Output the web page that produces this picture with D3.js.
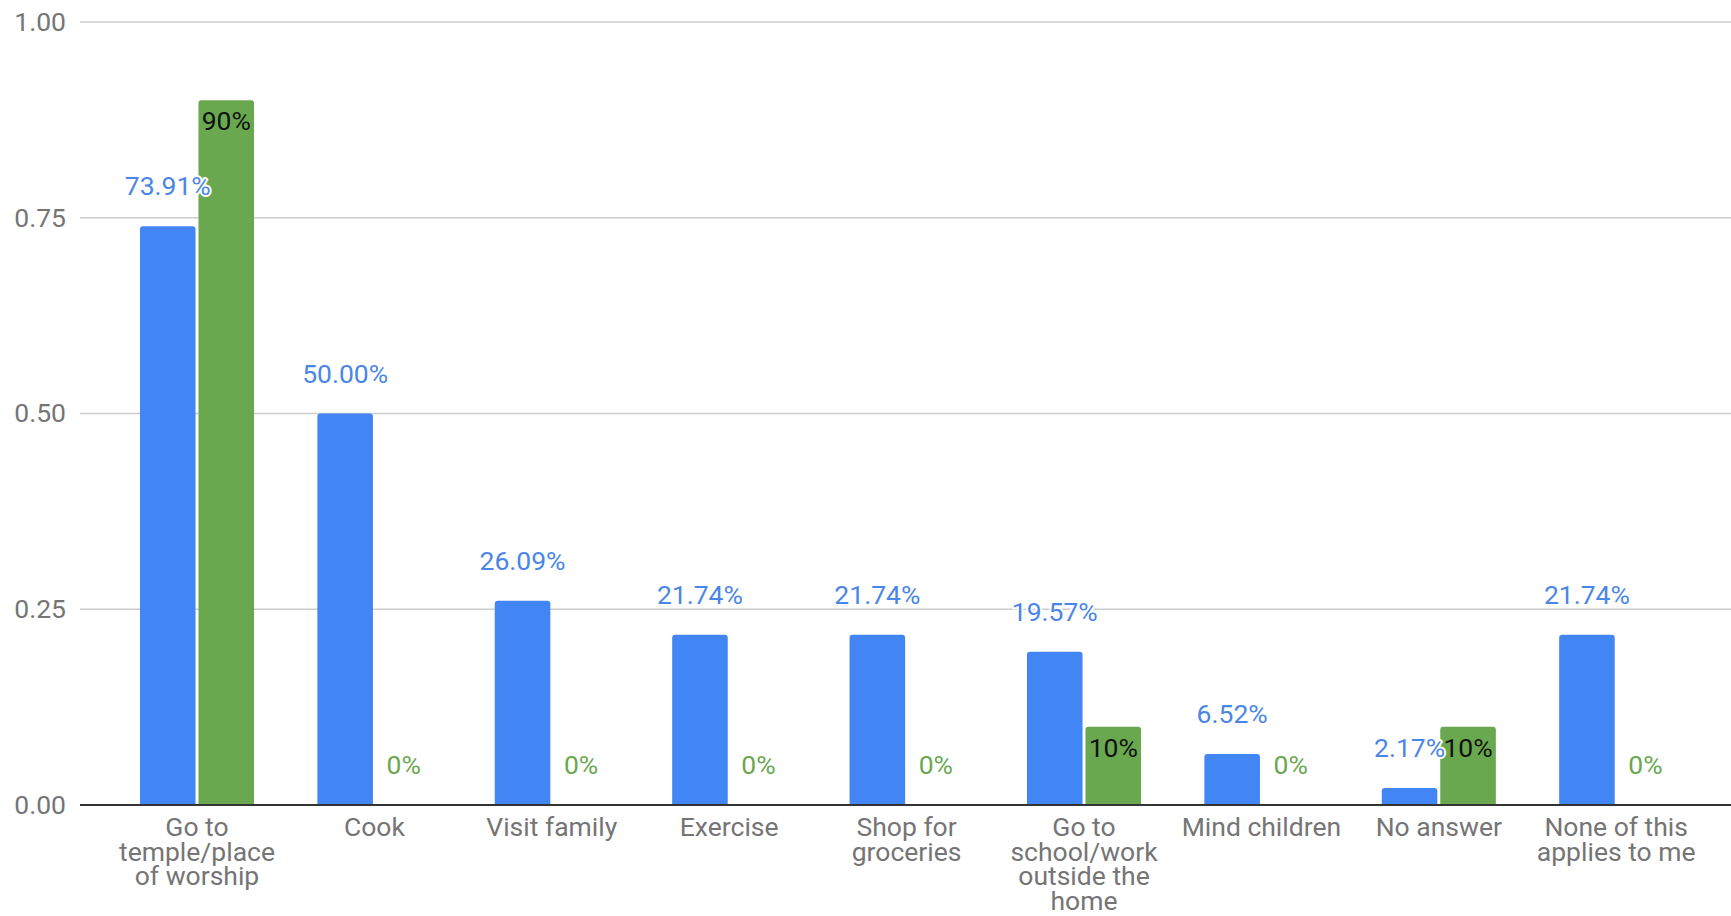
<!DOCTYPE html>
<html>
<head>
<meta charset="utf-8">
<script src="https://cdn.jsdelivr.net/npm/d3@7"></script>
<style>
  html, body { margin: 0; padding: 0; background: #fff; }
  svg { display: block; font-family: Roboto, "Noto Sans", sans-serif; }
</style>
</head>
<body>
<svg id="chart" width="1731" height="916"></svg>
<script>
const categories = [
  "Go to temple/place of worship",
  "Cook",
  "Visit family",
  "Exercise",
  "Shop for groceries",
  "Go to school/work outside the home",
  "Mind children",
  "No answer",
  "None of this applies to me"
];
const seriesNames = ["blue", "green"];
const blueValues  = [0.7391, 0.50, 0.2609, 0.2174, 0.2174, 0.1957, 0.0652, 0.0217, 0.2174];
const greenValues = [0.90, 0, 0, 0, 0, 0.10, 0, 0.10, 0];
const blueLabels  = ["73.91%", "50.00%", "26.09%", "21.74%", "21.74%", "19.57%", "6.52%", "2.17%", "21.74%"];
const greenLabels = ["90%", "0%", "0%", "0%", "0%", "10%", "0%", "10%", "0%"];
const yTicks = [0, 0.25, 0.5, 0.75, 1.0];

const svg = d3.select("#chart");
const FS = 26.5;
const blueColor = "#4285f4", greenColor = "#6aa84f";
const blueText = "#4a86e8", greenText = "#6aa84f";

const y = d3.scaleLinear().domain([0, 1]).range([805, 22]);
const x = d3.scaleBand().domain(categories).range([108.3, 1704.9]).paddingInner(0.357).paddingOuter(0.1785);
const xs = d3.scaleBand().domain(seriesNames).range([0, x.bandwidth()]).paddingInner(0.05);

// gridlines
svg.append("g").selectAll("line").data(yTicks.filter(d => d > 0)).join("line")
  .attr("x1", 80).attr("x2", 1731)
  .attr("y1", d => y(d)).attr("y2", d => y(d))
  .attr("stroke", "#cccccc").attr("stroke-width", 1.5);

// y axis labels
const yAxis = d3.axisLeft(y).tickValues(yTicks).tickFormat(d3.format(".2f")).tickSize(0).tickPadding(0);
const yg = svg.append("g").attr("transform", "translate(66,0)").call(yAxis);
yg.select(".domain").remove();
yg.selectAll("text").attr("font-size", FS).attr("fill", "#757575").attr("font-family", "Roboto, sans-serif");

// bars
function topRounded(x0, y0, w, h, r) {
  r = Math.min(r, h / 2, w / 2);
  if (h <= 0) return "";
  return `M${x0},${y0 + h}V${y0 + r}Q${x0},${y0} ${x0 + r},${y0}H${x0 + w - r}Q${x0 + w},${y0} ${x0 + w},${y0 + r}V${y0 + h}Z`;
}
const rows = categories.map((c, i) => ({
  cat: c,
  vals: [
    {s: "blue", v: blueValues[i], label: blueLabels[i]},
    {s: "green", v: greenValues[i], label: greenLabels[i]}
  ]
}));
const groups = svg.append("g").selectAll("g").data(rows).join("g")
  .attr("transform", d => `translate(${x(d.cat)},0)`);
groups.selectAll("path").data(d => d.vals).join("path")
  .attr("d", d => topRounded(xs(d.s), y(d.v), xs.bandwidth(), y(0) - y(d.v), 3))
  .attr("fill", d => d.s === "blue" ? blueColor : greenColor);

// zero axis line
svg.append("line").attr("x1", 80).attr("x2", 1731).attr("y1", y(0)).attr("y2", y(0))
  .attr("stroke", "#333333").attr("stroke-width", 2);

// value labels
const lab = svg.append("g");
rows.forEach(r => {
  r.vals.forEach(d => {
    const cx = x(r.cat) + xs(d.s) + xs.bandwidth() / 2;
    let ty, fill, halo = true;
    if (d.s === "green" && d.v > 0) {
      ty = y(d.v) + 30; fill = "#111111"; halo = false;
    } else {
      ty = y(d.v) - 31; fill = d.s === "blue" ? blueText : greenText;
    }
    const t = lab.append("text").attr("x", cx).attr("y", ty)
      .attr("text-anchor", "middle").attr("font-size", FS).attr("fill", fill).text(d.label);
    if (halo) t.attr("stroke", "#ffffff").attr("stroke-width", 4).attr("stroke-linejoin", "round").attr("paint-order", "stroke");
  });
});

// category labels with wrapping
const xg = svg.append("g");
const maxW = 174;
categories.forEach(c => {
  const t = xg.append("text").attr("text-anchor", "middle").attr("font-size", FS).attr("fill", "#757575");
  const cx = x(c) + x.bandwidth() / 2;
  const words = c.split(" ");
  let lines = [], cur = [];
  const probe = xg.append("text").attr("font-size", FS);
  words.forEach(w => {
    const test = cur.concat([w]).join(" ");
    probe.text(test);
    if (probe.node().getComputedTextLength() > maxW && cur.length) {
      lines.push(cur.join(" ")); cur = [w];
    } else cur.push(w);
  });
  lines.push(cur.join(" "));
  probe.remove();
  lines.forEach((ln, i) => {
    t.append("tspan").attr("x", cx).attr("y", 836 + i * 24.6).text(ln);
  });
});
</script>
</body>
</html>
